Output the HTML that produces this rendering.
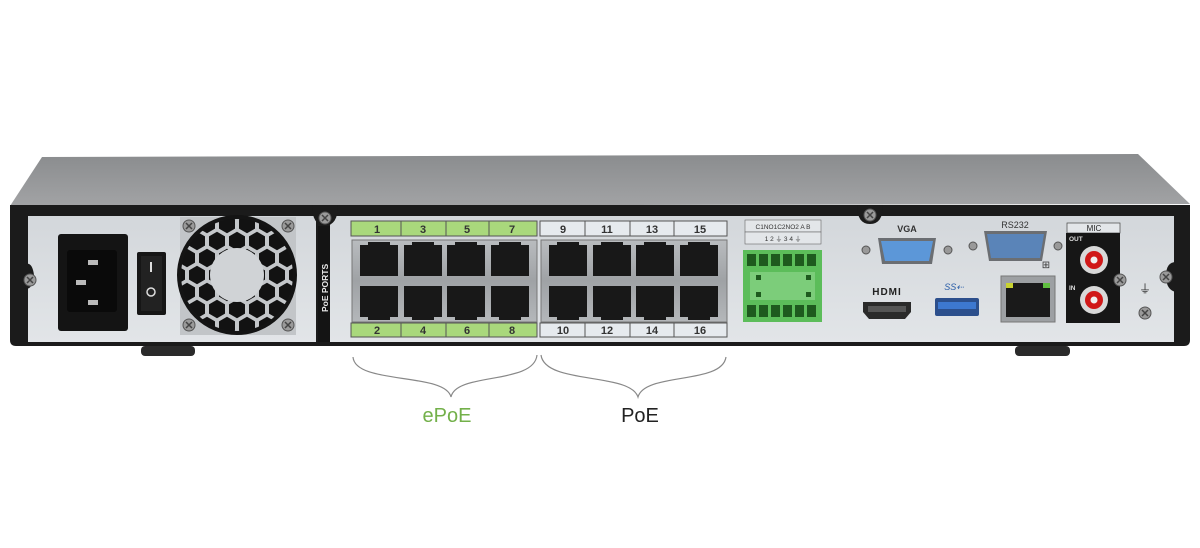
<!DOCTYPE html>
<html><head><meta charset="utf-8"><style>
html,body{margin:0;padding:0;background:#fff;}
svg{display:block;}
text{font-family:"Liberation Sans",sans-serif;}
</style></head><body>
<svg width="1200" height="548" viewBox="0 0 1200 548" xmlns="http://www.w3.org/2000/svg">
<defs>
<linearGradient id="top" x1="0" y1="0" x2="0" y2="1"><stop offset="0" stop-color="#8a8c8e"/><stop offset="1" stop-color="#a2a3a5"/></linearGradient>
<linearGradient id="panel" x1="0" y1="0" x2="0" y2="1"><stop offset="0" stop-color="#d3d7db"/><stop offset="1" stop-color="#e2e5e8"/></linearGradient>
<linearGradient id="metal" x1="0" y1="0" x2="0" y2="1"><stop offset="0" stop-color="#b9bcbf"/><stop offset="0.5" stop-color="#9fa2a5"/><stop offset="1" stop-color="#b4b7ba"/></linearGradient>
<polygon id="hx" points="0,-9.3 8,-4.65 8,4.65 0,9.3 -8,4.65 -8,-4.65" fill="#121212"/>
<pattern id="hex" width="20" height="34" patternUnits="userSpaceOnUse" x="227" y="258">
<rect width="20" height="34" fill="#c4c7ca"/>
<use href="#hx" x="0" y="0"/><use href="#hx" x="20" y="0"/><use href="#hx" x="10" y="17"/><use href="#hx" x="0" y="34"/><use href="#hx" x="20" y="34"/>
</pattern>
<clipPath id="fanclip"><circle cx="237" cy="275" r="58"/></clipPath>
<g id="screw"><circle r="6" fill="#9a9a9a" stroke="#555" stroke-width="1"/><path d="M-3,-3L3,3M3,-3L-3,3" stroke="#444" stroke-width="1.5"/></g>
<g id="rj"><path d="M0,0h8v-3h22v3h8v31h-38z" fill="#181818"/></g>
<g id="rjb"><path d="M0,0h38v31h-8v3h-22v-3h-8z" fill="#181818"/></g>
</defs>

<!-- top surface -->
<polygon points="42,157 1138,154 1190,204 10,206" fill="url(#top)"/>
<!-- front frame -->
<path d="M10,205 H1190 V340 Q1190,346 1184,346 H16 Q10,346 10,340 Z" fill="#1b1b1b"/>
<!-- inner panel -->
<path d="M28,216 H316 V342 H28 Z" fill="url(#panel)"/>
<path d="M330,216 H1174 V342 H330 Z" fill="url(#panel)"/>
<path d="M24,265 Q32,260 34,275 Q32,292 24,288Z" fill="#1b1b1b"/>
<path d="M1176,262 Q1166,262 1166,276 Q1166,290 1176,292Z" fill="#1b1b1b"/>
<use href="#screw" x="30" y="280"/>
<use href="#screw" x="1166" y="277"/>
<path d="M312,205 Q312,225 325,226 Q338,225 338,205Z" fill="#1b1b1b"/>
<use href="#screw" x="325" y="218"/>
<path d="M857,205 Q857,224 870,224 Q883,224 883,205Z" fill="#1b1b1b"/>
<use href="#screw" x="870" y="215"/>
<!-- feet -->
<rect x="141" y="346" width="54" height="10" rx="4" fill="#2a2a2a"/>
<rect x="1015" y="346" width="55" height="10" rx="4" fill="#2a2a2a"/>

<!-- power inlet -->
<rect x="58" y="234" width="70" height="97" rx="3" fill="#141414"/>
<rect x="67" y="250" width="50" height="62" rx="3" fill="#0a0a0a"/>
<rect x="88" y="260" width="10" height="5" fill="#bbb"/><rect x="76" y="280" width="10" height="5" fill="#bbb"/><rect x="88" y="300" width="10" height="5" fill="#bbb"/>
<rect x="137" y="252" width="29" height="63" rx="2" fill="#161616"/>
<rect x="141" y="256" width="21" height="55" fill="#222"/>
<rect x="150" y="262" width="2" height="10" fill="#ddd"/>
<circle cx="151" cy="292" r="4" fill="none" stroke="#ddd" stroke-width="1.5"/>
<!-- fan -->
<rect x="180" y="217" width="116" height="118" fill="#c2c5c8"/>
<g clip-path="url(#fanclip)"><rect x="170" y="210" width="140" height="130" fill="url(#hex)"/></g>
<circle cx="237" cy="275" r="58" fill="none" stroke="#141414" stroke-width="4"/>
<circle cx="237" cy="275" r="27" fill="#d0d3d6"/>
<use href="#screw" x="189" y="226"/><use href="#screw" x="288" y="226"/>
<use href="#screw" x="189" y="325"/><use href="#screw" x="288" y="325"/>

<!-- PoE PORTS strip -->
<rect x="318" y="226" width="12" height="116" fill="#141414"/>
<text x="0" y="0" transform="translate(328,312) rotate(-90)" font-size="8.5" font-weight="bold" fill="#e8e8e8">PoE PORTS</text>

<!-- port labels -->
<g font-size="11" font-weight="bold" fill="#333" text-anchor="middle" stroke="#333" stroke-width="0.6">
<rect x="351" y="221" width="186" height="15" fill="#a9d87c" stroke="#555" stroke-width="1"/>
<rect x="351" y="323" width="186" height="14" fill="#a9d87c" stroke="#555" stroke-width="1"/>
<rect x="540" y="221" width="187" height="15" fill="#e6eaee" stroke="#555" stroke-width="1"/>
<rect x="540" y="323" width="187" height="14" fill="#e6eaee" stroke="#555" stroke-width="1"/>
<path d="M401,221v15M446,221v15M489,221v15M585,221v15M630,221v15M674,221v15M401,323v14M446,323v14M489,323v14M585,323v14M630,323v14M674,323v14" stroke="#555" stroke-width="1"/>
<g stroke="none">
<text x="377" y="233">1</text><text x="423" y="233">3</text><text x="467" y="233">5</text><text x="512" y="233">7</text>
<text x="563" y="233">9</text><text x="607" y="233">11</text><text x="652" y="233">13</text><text x="700" y="233">15</text>
<text x="377" y="334">2</text><text x="423" y="334">4</text><text x="467" y="334">6</text><text x="512" y="334">8</text>
<text x="563" y="334">10</text><text x="607" y="334">12</text><text x="652" y="334">14</text><text x="700" y="334">16</text>
</g></g>
<rect x="352" y="240" width="185" height="82" fill="url(#metal)" stroke="#777"/>
<rect x="541" y="240" width="186" height="82" fill="url(#metal)" stroke="#777"/>
<g>
<use href="#rj" x="360" y="245"/><use href="#rj" x="404" y="245"/><use href="#rj" x="447" y="245"/><use href="#rj" x="491" y="245"/>
<use href="#rj" x="549" y="245"/><use href="#rj" x="593" y="245"/><use href="#rj" x="636" y="245"/><use href="#rj" x="680" y="245"/>
<use href="#rjb" x="360" y="286"/><use href="#rjb" x="404" y="286"/><use href="#rjb" x="447" y="286"/><use href="#rjb" x="491" y="286"/>
<use href="#rjb" x="549" y="286"/><use href="#rjb" x="593" y="286"/><use href="#rjb" x="636" y="286"/><use href="#rjb" x="680" y="286"/>
</g>

<!-- terminal block -->
<rect x="745" y="220" width="76" height="12" fill="#e3e6e9" stroke="#666" stroke-width="0.6"/>
<rect x="745" y="232" width="76" height="12" fill="#e3e6e9" stroke="#666" stroke-width="0.6"/>
<text x="783" y="229" font-size="6.5" fill="#333" text-anchor="middle">C1NO1C2NO2 A  B</text>
<text x="783" y="241" font-size="6.5" fill="#333" text-anchor="middle">1  2  ⏚  3  4  ⏚</text>
<rect x="743" y="250" width="79" height="72" fill="#5cbd5a"/>
<rect x="750" y="272" width="65" height="28" fill="#7ccd7a"/>
<g fill="#1e5a1e">
<rect x="747" y="254" width="9" height="12"/><rect x="759" y="254" width="9" height="12"/><rect x="771" y="254" width="9" height="12"/><rect x="783" y="254" width="9" height="12"/><rect x="795" y="254" width="9" height="12"/><rect x="807" y="254" width="9" height="12"/>
<rect x="747" y="305" width="9" height="12"/><rect x="759" y="305" width="9" height="12"/><rect x="771" y="305" width="9" height="12"/><rect x="783" y="305" width="9" height="12"/><rect x="795" y="305" width="9" height="12"/><rect x="807" y="305" width="9" height="12"/>
<rect x="756" y="275" width="5" height="5"/><rect x="806" y="275" width="5" height="5"/><rect x="756" y="292" width="5" height="5"/><rect x="806" y="292" width="5" height="5"/>
</g>

<!-- VGA -->
<text x="907" y="232" font-size="9" font-weight="bold" fill="#333" text-anchor="middle">VGA</text>
<circle cx="866" cy="250" r="4" fill="#999" stroke="#555"/><circle cx="948" cy="250" r="4" fill="#999" stroke="#555"/>
<path d="M878,238 H936 L932,264 H882 Z" fill="#6b6e72"/>
<path d="M881,241 H933 L929,261 H885 Z" fill="#5c97d8"/>
<!-- RS232 -->
<text x="1015" y="228" font-size="9" fill="#333" text-anchor="middle">RS232</text>
<circle cx="973" cy="246" r="4" fill="#999" stroke="#555"/><circle cx="1058" cy="246" r="4" fill="#999" stroke="#555"/>
<path d="M984,231 H1047 L1042,261 H989 Z" fill="#6b6e72"/>
<path d="M987,234 H1044 L1040,258 H991 Z" fill="#5a84b8"/>
<!-- HDMI -->
<text x="887" y="295" font-size="10" font-weight="bold" fill="#222" text-anchor="middle" letter-spacing="1">HDMI</text>
<path d="M863,302 H911 V312 L905,319 H869 L863,312 Z" fill="#2a2a2a"/>
<rect x="868" y="306" width="38" height="6" fill="#555"/>
<!-- USB -->
<text x="954" y="290" font-size="9" font-style="italic" fill="#2a5da8" text-anchor="middle">SS⇠</text>
<rect x="935" y="298" width="44" height="18" rx="2" fill="#2c4f8c"/>
<rect x="938" y="302" width="38" height="7" fill="#3d78d0"/>
<!-- LAN -->
<text x="1046" y="268" font-size="10" fill="#333" text-anchor="middle">⊞</text>
<rect x="1001" y="276" width="54" height="46" fill="#9da0a3" stroke="#777"/>
<rect x="1006" y="283" width="44" height="34" fill="#1a1a1a"/>
<rect x="1006" y="283" width="7" height="5" fill="#c8d230"/><rect x="1043" y="283" width="7" height="5" fill="#60c040"/>
<!-- MIC -->
<rect x="1067" y="223" width="53" height="10" fill="#e3e6e9" stroke="#444" stroke-width="0.7"/>
<text x="1094" y="231" font-size="8" fill="#222" text-anchor="middle">MIC</text>
<rect x="1066" y="233" width="54" height="90" fill="#161616"/>
<text x="1069" y="241" font-size="6.5" font-weight="bold" fill="#ddd">OUT</text>
<text x="1069" y="290" font-size="6.5" font-weight="bold" fill="#ddd">IN</text>
<circle cx="1094" cy="260" r="14" fill="#d8d8d8"/><circle cx="1094" cy="260" r="9" fill="#d01818"/><circle cx="1094" cy="260" r="3.5" fill="#f0f0f0"/>
<circle cx="1094" cy="300" r="14" fill="#d8d8d8"/><circle cx="1094" cy="300" r="9" fill="#d01818"/><circle cx="1094" cy="300" r="3.5" fill="#f0f0f0"/>
<use href="#screw" x="1120" y="280"/>
<text x="1145" y="293" font-size="12" fill="#333" text-anchor="middle">⏚</text>
<use href="#screw" x="1145" y="313"/>

<!-- braces -->
<path d="M353,357 C355,385 445,372 451,397 C456,372 534,385 537,355" fill="none" stroke="#888" stroke-width="1.2"/>
<path d="M541,355 C545,385 630,372 638,397 C645,372 722,385 726,357" fill="none" stroke="#888" stroke-width="1.2"/>
<text x="447" y="422" font-size="20" fill="#73b04a" text-anchor="middle">ePoE</text>
<text x="640" y="422" font-size="20" fill="#222" text-anchor="middle">PoE</text>
</svg>
</body></html>
